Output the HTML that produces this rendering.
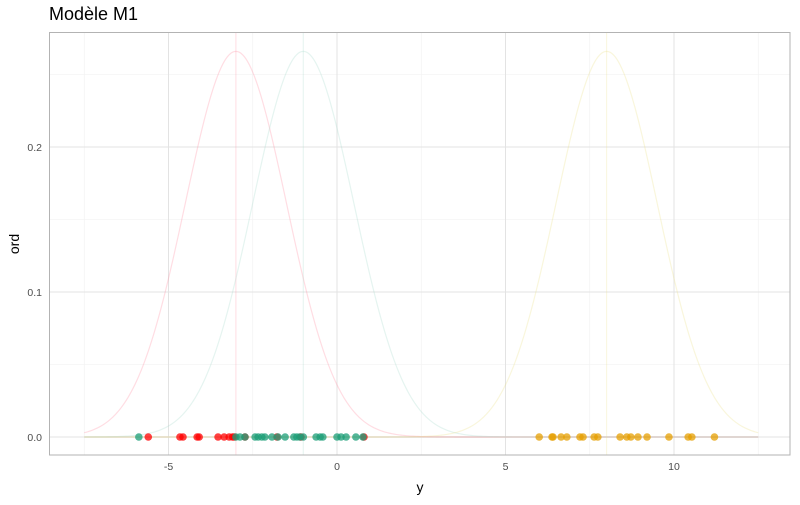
<!DOCTYPE html>
<html><head><meta charset="utf-8"><style>
body{margin:0;background:#fff;font-family:"Liberation Sans",sans-serif}
svg text{font-family:"Liberation Sans",sans-serif}
</style></head><body>
<svg id="chart" width="800" height="500" xmlns="http://www.w3.org/2000/svg">
<text x="49" y="20" font-size="18" fill="#000">Modèle M1</text>
<g id="grid"></g>
<g id="curves"></g>
<g id="points"></g>
<rect x="49.5" y="32.5" width="740.5" height="422.5" fill="none" stroke="#b3b3b3" stroke-width="1"/>
<g id="axes"></g>
<text x="420" y="492" font-size="14" text-anchor="middle" fill="#000">y</text>
<text transform="translate(19,244) rotate(-90)" font-size="14" text-anchor="middle" fill="#000">ord</text>
</svg>
<script>
const means = [-3, -1, 8];
const sds = [1.5, 1.5, 1.5];
const curveColors = ["#ff8fa3", "#a8dccc", "#ece08a"];
const xTicks = [-5, 0, 5, 10];
const yTicks = [0, 0.1, 0.2];
const yTickLabels = ["0.0", "0.1", "0.2"];
const redX = [-5.6,-4.66,-4.57,-4.15,-4.09,-3.53,-3.35,-3.2,-3.1,-3.05,-2.73,-1.78,-1.07,0.8];
const greenX = [-5.88,-3.0,-2.88,-2.73,-2.43,-2.34,-2.23,-2.14,-1.93,-1.75,-1.54,-1.28,-1.19,-1.1,-1.0,-0.62,-0.5,-0.42,0,0.12,0.27,0.56,0.77];
const orangeX = [6.0,6.38,6.41,6.65,6.82,7.21,7.3,7.63,7.74,8.4,8.6,8.72,8.93,9.2,9.85,10.42,10.53,11.2];

const NS = "http://www.w3.org/2000/svg";
const xS = v => 337 + v * 33.7;
const yS = v => 437 - v * 1450;
function mk(tag, attrs, parent){const e=document.createElementNS(NS,tag);for(const k in attrs)e.setAttribute(k,attrs[k]);parent.appendChild(e);return e;}
const grid=document.getElementById('grid'), curves=document.getElementById('curves'), pts=document.getElementById('points'), axes=document.getElementById('axes');
[-7.5,-2.5,2.5,7.5,12.5].forEach(v=>{const l=mk('line',{x1:xS(v),x2:xS(v),y1:32.5,y2:455,stroke:'#f0f0f0','stroke-width':0.6},grid);

});
[0.05,0.15,0.25].forEach(v=>{const l=mk('line',{x1:49.5,x2:790,y1:yS(v),y2:yS(v),stroke:'#f0f0f0','stroke-width':0.6},grid);

});
xTicks.forEach(v=>{const l=mk('line',{x1:xS(v),x2:xS(v),y1:32.5,y2:455,stroke:'#e3e3e3','stroke-width':1},grid);


const t=mk('text',{x:xS(v),y:470,'font-size':10.5,'text-anchor':'middle',fill:'#4d4d4d'},axes);t.textContent=(v<0?'-':'')+Math.abs(v);

});
yTicks.forEach((v,i)=>{const l=mk('line',{x1:49.5,x2:790,y1:yS(v),y2:yS(v),stroke:'#e3e3e3','stroke-width':1},grid);


const t=mk('text',{x:42,y:yS(v)+4,'font-size':10.5,'text-anchor':'end',fill:'#4d4d4d'},axes);t.textContent=yTickLabels[i];

});
const z=mk('line',{x1:xS(-7.5),x2:xS(12.5),y1:yS(0),y2:yS(0),stroke:'#e0d8d0','stroke-width':1.5},curves);


means.forEach((m,i)=>{let d='';for(let k=0;k<=400;k++){const x=-7.5+20*k/400;const y=Math.exp(-0.5*((x-m)/sds[i])**2)/(sds[i]*Math.sqrt(2*Math.PI));d+=(k?'L':'M')+xS(x).toFixed(2)+','+yS(y).toFixed(2);}
const p=mk('path',{d:d,fill:'none',stroke:curveColors[i],'stroke-width':1.2,'stroke-opacity':0.3},curves);


const v=mk('line',{x1:xS(m),x2:xS(m),y1:32.5,y2:455,stroke:curveColors[i],'stroke-width':1.2,'stroke-opacity':0.25},curves);

});
function drawPts(arr,col,name){arr.forEach(x=>{const c=mk('circle',{cx:xS(x),cy:yS(0),r:3.8,fill:col,'fill-opacity':0.75},pts);

});}
drawPts(redX,'#ff0000','point-red');
drawPts(greenX,'#1b9e77','point-green');
drawPts(orangeX,'#e69f00','point-orange');
</script>
</body></html>
